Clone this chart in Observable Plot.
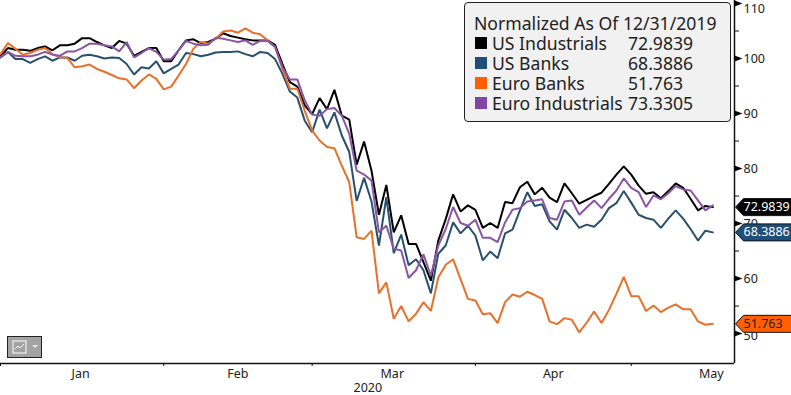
<!DOCTYPE html>
<html><head><meta charset="utf-8">
<style>
html,body{margin:0;padding:0;background:#fff}
#wrap{position:relative;width:791px;height:395px;overflow:hidden;font-family:"Noto Sans",sans-serif;color:#222}
#legend{position:absolute;left:464px;top:2px;width:265px;height:118px;background:#f1f1f1;border:1px solid #222;border-radius:4px;font-size:17.6px;line-height:20px}
#legend .hd{position:absolute;left:9px;top:10px;white-space:nowrap}
#legend .r{position:absolute;left:0;white-space:nowrap}
#legend .sw{position:absolute;left:10px;top:4px;width:12px;height:12px}
#legend .n{position:absolute;left:27px;top:0}
#legend .v{position:absolute;left:163px;top:0}
#icon{position:absolute;left:7px;top:336px;width:33px;height:20px;background:#a3a3a3;border:1px solid #222}
</style>
<script src="https://cdn.jsdelivr.net/npm/d3@7"></script>
<script src="https://cdn.jsdelivr.net/npm/@observablehq/plot@0.6"></script>
</head><body><div id="wrap"></div>
<script>
const legendTitle = "Normalized As Of 12/31/2019";
const seriesNames = ["US Industrials","US Banks","Euro Banks","Euro Industrials"];
const seriesLabels = ["72.9839","68.3886","51.763","73.3305"];
const lineColors = ["#000000","#28506f","#e8702a","#8a55a5"];
const swatchColors = ["#000000","#1f4e79","#ff5f00","#8045a5"];

const usIndustrials = [100.5,101.9,101.6,101.6,101.4,101.9,102.2,101.5,102.4,102.4,
102.7,103.7,103.7,103,102.4,101.9,103.2,102.7,100.5,101.2,
101.9,101.9,99.5,99.5,101.5,103.3,103.5,102.8,103,103.6,
104.6,104.1,103.8,103.5,103.3,103.3,103.3,102.5,99,95.7,
94.9,91.5,89.9,92.8,90.8,94.3,89.6,88.9,80.7,84.9,
79.6,71.6,77,68.4,71.5,66.3,66.3,63,59.6,66.9,
70.8,75.3,72.2,73.3,72.5,69.2,70.1,69.2,73.9,73.7,
76.6,77.6,75.3,76.5,74.7,73.9,77.3,75.5,73.6,74.3,
75,75.6,77.2,78.9,80.4,78.9,76.9,75.4,75.7,74.6,
75.9,77.3,76.5,74.5,72.4,73.2,72.98];
const usBanks = [100.2,101.2,99.9,99.9,99.2,99.9,100.4,99.6,100.2,100.2,
99.6,100.5,100.7,100.4,100,100.2,100.1,99,97.1,98.4,
98.2,99.5,97.3,98.1,98.9,101,100.8,100.4,100.7,101.1,
101.2,101.2,101.3,100.8,100.4,101.2,101,99.9,97.2,94,
92.9,88.7,86.6,90.7,87.3,90.2,86,83,74.1,78.3,
74,66,74.8,64.6,68,62.4,63.5,61.5,57.3,64.5,
66,70.2,68.2,69.6,67.8,63.3,64.9,63.7,68.2,68.9,
72.4,75.7,73.2,73.5,70.4,68.9,72.5,71,69.2,69.8,
69.4,70.7,72.8,73.7,75.9,73.8,71.6,71,70.7,69.2,
70.9,72.4,70.9,69,66.9,68.7,68.39];
const euroBanks = [100.8,102.8,101.8,100.7,101,101.6,101.9,100.8,100.2,100.1,
98.4,98.6,98.9,98.1,97.6,97,96.4,96.2,94.6,96,
97.1,96.3,94.4,94.9,96.9,99,101.8,103,102.7,103.6,
104.9,105.1,104.7,105.5,104.7,104.4,103.3,102.1,98.1,94.5,
94.5,90.5,86.9,85.1,83.9,83.7,80.5,77.5,67.5,67.2,
68.7,57.3,59.3,52.7,55,52.2,53.6,55.7,54.1,60.2,
62.5,63.5,59.9,56.3,56,53.5,53.7,51.9,55.7,57.1,
56.7,57.6,57,56.3,52.2,51.7,52.8,52.5,50.2,52,
54,51.9,54.3,57.2,60.3,56.8,56.8,54.1,55.1,53.9,
54.7,55.3,54.4,54.4,52.2,51.6,51.763];
const euroIndustrials = [100.2,101.2,100.5,100.4,100.4,100.7,101.2,100.7,100.5,101.3,
101.3,101.9,102.7,102.7,102.4,102.2,101.3,103,100.2,101,
101.9,101.2,99.8,99.9,101.5,103.2,102.7,102.4,102.5,103.8,
103.6,103.3,103,103.3,102.5,103.2,103.2,102.1,98.4,96.2,
96.2,92.4,89.8,89.6,90.8,91,89.6,86.3,79.6,78.9,
77.8,68.4,69.6,65.4,65.1,60.1,61.5,64.4,60.5,66,
69,73,70.1,69.6,70.7,67.4,67.4,66.6,70.2,72.5,
72.8,74,74.2,74.4,71,70.7,74,74.2,71.6,72.9,
74.2,72.8,74.5,76,78.2,76.5,75.7,73,75.1,74.4,
75.5,76.8,76.2,76,74.2,72.4,73.3305];

const monthTicks = [0,22,42,64,85];
const monthLabels = ["Jan","Feb","Mar","Apr","May"];
const monthLabelPos = [10.8,32,52.8,74.5,95.8];
const yearLabel = "2020", yearLabelPos = 49.5;
const majorTicks = [50,60,70,80,90,100,110];
const minorTicks = [55,65,75,85,95,105];
const xDomain = [0,98.92], yDomain = [44.55,110.55];
const lastVals = [72.9839,68.3886,51.763];

const allSeries = [usIndustrials,usBanks,euroBanks,euroIndustrials];

// Symbols anchored on the scaled position
const arrow = {draw(c){c.moveTo(0,-3);c.lineTo(8,0);c.lineTo(0,3);c.closePath();}};
const tag = {draw(c){c.moveTo(1,0);c.lineTo(9,-8.5);c.lineTo(60,-8.5);c.lineTo(60,8.5);c.lineTo(9,8.5);c.closePath();}};
const tagRows = lastVals.map((v,i)=>({x:xDomain[1],y:v,t:seriesLabels[i],i}));

const plot = Plot.plot({
  width:791,height:395,marginLeft:0,marginRight:57,marginTop:0,marginBottom:32,
  style:{fontFamily:'"Noto Sans",sans-serif',fontSize:"12px",color:"#222",background:"#fff",overflow:"visible"},
  x:{domain:xDomain,range:[0,734]},
  y:{domain:yDomain,range:[363,0]},
  marks:[
    ...allSeries.map((s,k)=>Plot.line(s,{x:(d,i)=>i,y:d=>d,stroke:lineColors[k],strokeWidth:2,strokeLinejoin:"miter"})),
    Plot.ruleY([yDomain[0]],{stroke:"#111",strokeWidth:1.5}),
    Plot.ruleX([xDomain[1]],{stroke:"#111",strokeWidth:1.5}),
    Plot.axisX({ticks:monthTicks,tickFormat:()=>"",tickSize:3,stroke:"#111",label:null}),
    Plot.axisY({anchor:"right",ticks:minorTicks,tickFormat:()=>"",tickSize:4,stroke:"#111",label:null}),
    Plot.dot(majorTicks,{x:()=>xDomain[1],y:d=>d,symbol:arrow,r:3,fill:"#000",stroke:"none"}),
    Plot.text(majorTicks.filter(d=>d<110&&d>50),{x:()=>xDomain[1],y:d=>d,text:d=>String(d),dx:9,textAnchor:"start",fontSize:12.5,fill:"#222"}),
    Plot.text([110],{x:()=>xDomain[1],y:d=>d,text:d=>String(d),dx:9,dy:5,textAnchor:"start",fontSize:12.5,fill:"#222"}),
    Plot.text([50],{x:()=>xDomain[1],y:d=>d,text:d=>String(d),dx:9,dy:2,textAnchor:"start",fontSize:12.5,fill:"#222"}),
    Plot.text(monthLabels,{x:(d,i)=>monthLabelPos[i],y:()=>yDomain[0],text:d=>d,dy:10,fontSize:12.5,fill:"#222"}),
    Plot.text([yearLabel],{x:()=>yearLabelPos,y:()=>yDomain[0],text:d=>d,dy:24,fontSize:12.5,fill:"#222"}),
    Plot.dot(tagRows,{x:"x",y:"y",symbol:tag,r:3,fill:d=>swatchColors[d.i],stroke:"#111",strokeWidth:1}),
    Plot.text(tagRows,{x:"x",y:"y",text:"t",dx:9,textAnchor:"start",fontSize:12.5,fill:d=>d.i===2?"#222":"#fff"})
  ]
});
const wrap = document.getElementById("wrap");
wrap.appendChild(plot);

const lg = document.createElement("div"); lg.id="legend";
lg.innerHTML = `<div class="hd"></div>`;
lg.querySelector(".hd").textContent = legendTitle;
seriesNames.forEach((n,i)=>{
  const r=document.createElement("div"); r.className="r"; r.style.top=(30+i*20)+"px";
  r.innerHTML=`<span class="sw" style="background:${swatchColors[i]}"></span><span class="n"></span><span class="v"></span>`;
  r.querySelector(".n").textContent=n; r.querySelector(".v").textContent=seriesLabels[i];
  lg.appendChild(r);
});
wrap.appendChild(lg);
const ic=document.createElement("div"); ic.id="icon";
ic.innerHTML=`<svg width="33" height="20" style="display:block"><rect x="5" y="4" width="13" height="12" fill="none" stroke="#fff"/><path d="M7 12 L10 9 L12 11 L16 7" fill="none" stroke="#fff"/><path d="M24 8 L30 8 L27 11 Z" fill="#e6e6e6"/></svg>`;
wrap.appendChild(ic);
</script></body></html>
